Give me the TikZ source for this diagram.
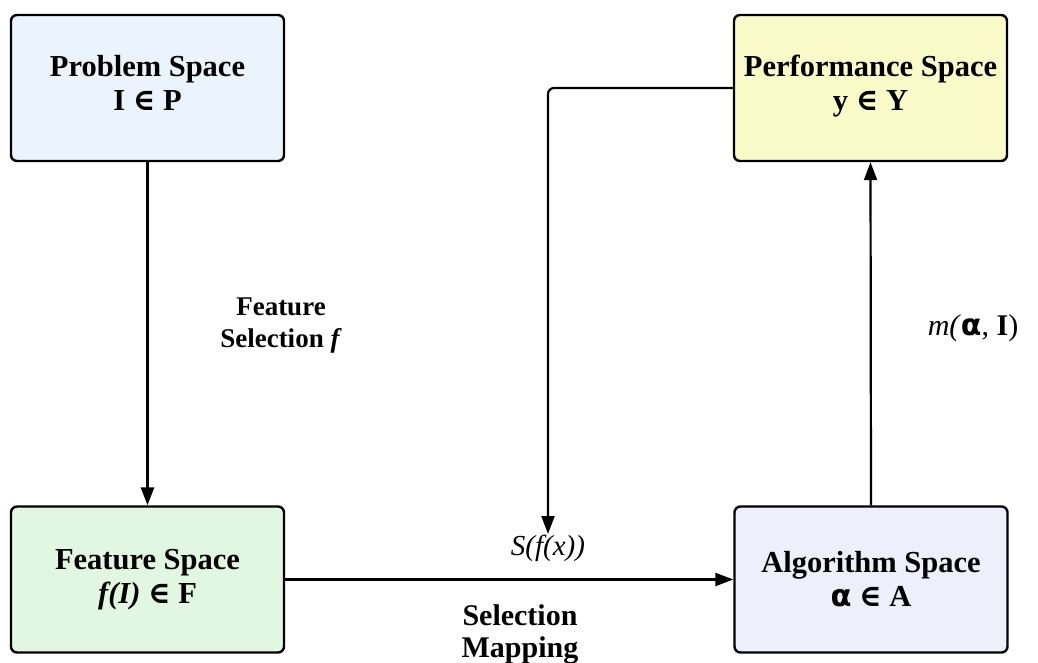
\documentclass[tikz,border=0pt]{standalone}
\usepackage{fontspec}
\setmainfont{Liberation Serif}
\newfontfamily\symf{DejaVu Serif}
\newfontfamily\grk{DejaVu Sans}
\usetikzlibrary{arrows.meta}
\definecolor{cprob}{HTML}{EBF4FD}
\definecolor{cperf}{HTML}{FBFBC9}
\definecolor{cfeat}{HTML}{E1F7E1}
\definecolor{calg}{HTML}{EFEFFB}
\newcommand{\elem}{{\symf\bfseries ∈}}
\begin{document}
\begin{tikzpicture}[x=1pt,y=1pt,
  space/.style={draw=black, line width=2.4pt, rounded corners=6pt, minimum width=273pt, minimum height=146pt,
    align=center, font=\fontsize{30.5}{34}\selectfont\bfseries, inner sep=0pt},
  conn/.style={line width=2.2pt, -{Triangle[length=18pt,width=13pt]}},
  lbl/.style={align=center, font=\fontsize{29}{32}\selectfont, inner sep=0pt}]
\useasboundingbox (0,0) rectangle (1038,-662);
\node[space, fill=cprob] (prob) at (147.5,-88) {Problem Space\\I \elem\ P\\[-24pt]};
\node[space, fill=cperf] (perf) at (870.5,-88) {Performance Space\\y \elem\ Y\\[-24pt]};
\node[space, fill=cfeat] (feat) at (147.5,-579.5) {Feature Space\\\textit{f(I)} \elem\ F};
\node[space, fill=calg] (alg) at (871,-579.5) {Algorithm Space\\{\grk\bfseries α} \elem\ A};
\coordinate (sel) at (548,-534);
\draw[conn, line width=2.8pt] (prob.south) -- (feat.north);
\draw[conn] (feat.east) -- (alg.west);
\draw[conn] (alg.north) -- (perf.south);
\draw[conn, rounded corners=6pt] (perf.west) -| (sel);
\node[lbl, font=\fontsize{27}{32}\selectfont\bfseries] (lfs) at (281,-326) {Feature\\Selection \textit{f}};
\node[lbl] (ls) at (548,-548) {\textit{S(f(x))}};
\node[lbl, font=\fontsize{30}{32}\selectfont\bfseries] (lsm) at (520,-634) {Selection\\Mapping};
\node[lbl, font=\fontsize{30}{32}\selectfont] (lm) at (973,-328) {\textit{m(}{\grk\bfseries α}, \textbf{I})};
\end{tikzpicture}
\end{document}
